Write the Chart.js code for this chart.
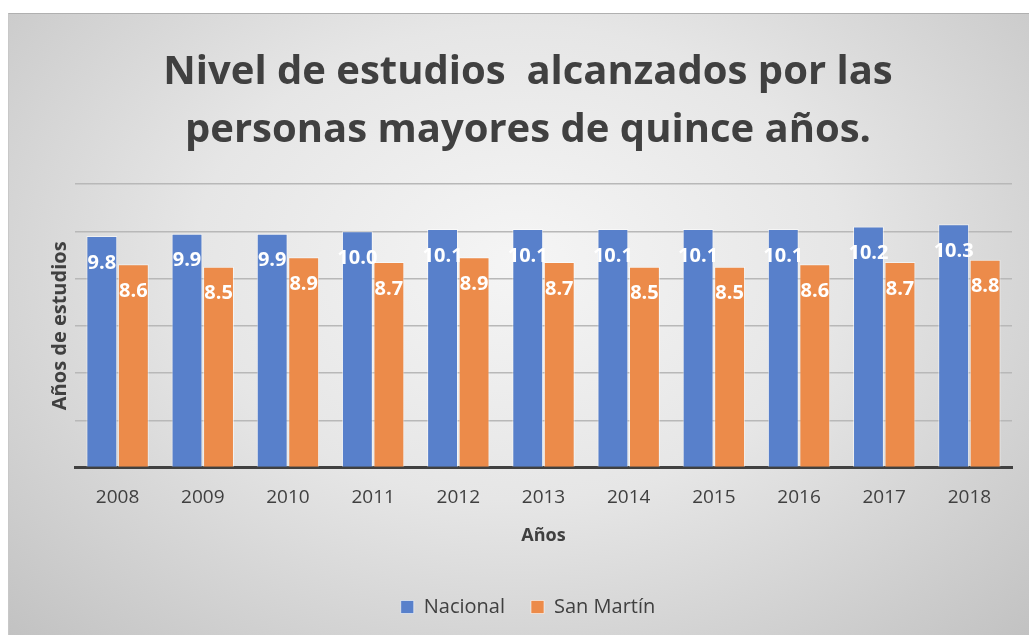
<!DOCTYPE html>
<html lang="es">
<head>
    <meta charset="UTF-8">
    <title>Nivel de estudios</title>
    <style>
        body {
            margin: 0;
            background-color: #ffffff;
        }
        #box {
            position: absolute;
            left: 8px;
            top: 13px;
            width: 1021px;
            height: 622px;
            border-top: 1px solid #b0b0b0;
            border-left: 1px solid #c8c8c8;
            box-sizing: border-box;
            background: radial-gradient(ellipse at 50% 40%, #f5f5f5 0%, #e6e6e6 45%, #c2c2c2 100%);
        }
    </style>
    <script src="https://cdn.jsdelivr.net/npm/chart.js"></script>
</head>
<body>
    <div id="box">
        <canvas id="grafico" width="1020" height="621"></canvas>
    </div>

    <script>
        // datos
        const anios = ['2008', '2009', '2010', '2011', '2012', '2013', '2014', '2015', '2016', '2017', '2018'];
        const nacional = [9.8, 9.9, 9.9, 10.0, 10.1, 10.1, 10.1, 10.1, 10.1, 10.2, 10.3];
        const sanMartin = [8.6, 8.5, 8.9, 8.7, 8.9, 8.7, 8.5, 8.5, 8.6, 8.7, 8.8];

        const gris = '#404040';
        const fuente = 'Open Sans';

        // etiquetas blancas dentro de cada barra
        const etiquetas = {
            id: 'etiquetas',
            afterDatasetsDraw(chart) {
                const ctx = chart.ctx;
                ctx.save();
                ctx.fillStyle = '#ffffff';
                ctx.font = 'bold 20px "' + fuente + '"';
                ctx.textAlign = 'center';
                ctx.textBaseline = 'middle';
                chart.data.datasets.forEach((ds, i) => {
                    chart.getDatasetMeta(i).data.forEach((bar, j) => {
                        ctx.fillText(ds.data[j].toFixed(1), bar.x, bar.y + 27);
                    });
                });
                ctx.restore();
            }
        };

        new Chart(document.getElementById('grafico'), {
            type: 'bar',
            data: {
                labels: anios,
                datasets: [{
                    label: 'Nacional',
                    data: nacional,
                    backgroundColor: '#5880cb',
                    borderColor: 'rgba(255,255,255,0.55)',
                    borderWidth: 1
                }, {
                    label: 'San Martín',
                    data: sanMartin,
                    backgroundColor: '#ec8b4a',
                    borderColor: 'rgba(255,255,255,0.55)',
                    borderWidth: 1
                }]
            },
            options: {
                responsive: false,
                animation: false,
                categoryPercentage: 0.74,
                barPercentage: 0.98,
                layout: {
                    padding: { left: 35, right: 17, top: 30, bottom: 8 }
                },
                plugins: {
                    title: {
                        display: true,
                        text: ['Nivel de estudios  alcanzados por las', 'personas mayores de quince años.'],
                        color: gris,
                        font: { family: fuente, size: 40, weight: 'bold', lineHeight: 1.45 },
                        padding: { top: 0, bottom: 24 }
                    },
                    legend: {
                        position: 'bottom',
                        labels: {
                            color: gris,
                            font: { family: fuente, size: 20 },
                            boxWidth: 13,
                            boxHeight: 13,
                            padding: 26
                        }
                    },
                    tooltip: { enabled: false }
                },
                scales: {
                    x: {
                        grid: { display: false },
                        border: { display: true, color: '#404040', width: 3 },
                        ticks: { color: gris, font: { family: fuente, size: 19 }, padding: 11 },
                        title: {
                            display: true,
                            text: 'Años',
                            color: gris,
                            font: { family: fuente, size: 18, weight: 'bold' },
                            padding: { top: 5, bottom: 24 }
                        }
                    },
                    y: {
                        min: 0,
                        max: 12,
                        ticks: { display: false, stepSize: 2 },
                        grid: { color: '#b8b8b8', drawTicks: false, lineWidth: 1.5 },
                        border: { display: false },
                        title: {
                            display: true,
                            text: 'Años de estudios',
                            color: gris,
                            font: { family: fuente, size: 20, weight: 'bold' },
                            padding: { bottom: 3 }
                        }
                    }
                }
            },
            plugins: [etiquetas]
        });
    </script>
</body>
</html>
